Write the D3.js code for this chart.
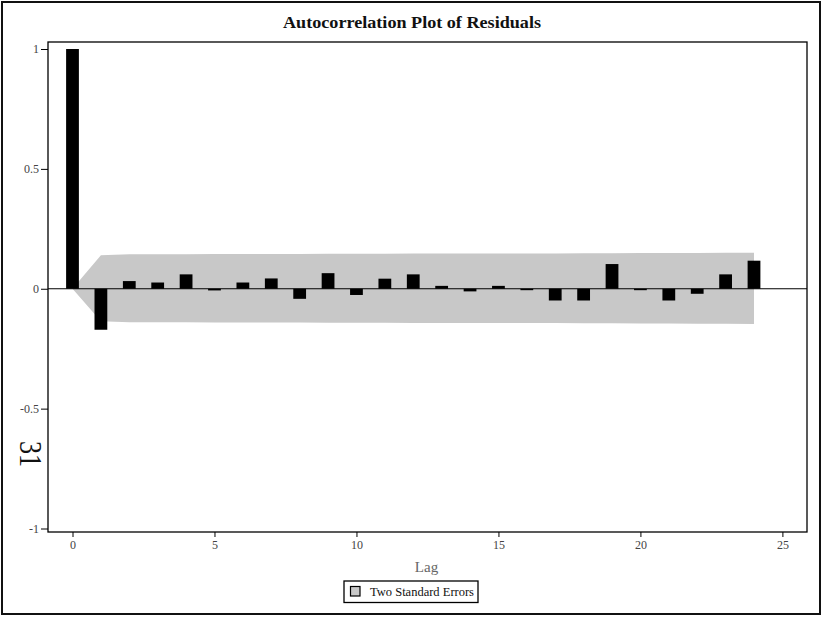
<!DOCTYPE html>
<html>
<head>
<meta charset="utf-8">
<script src="https://cdn.jsdelivr.net/npm/d3@7"></script>
<style>
  html, body { margin: 0; padding: 0; background: #fff; }
  svg { display: block; }
</style>
</head>
<body>
<svg id="chart" width="822" height="617"></svg>
<script>
// ---- data ----
const lags = [0,1,2,3,4,5,6,7,8,9,10,11,12,13,14,15,16,17,18,19,20,21,22,23,24];
const acf = [1.0,-0.171,0.032,0.026,0.060,-0.007,0.026,0.043,-0.042,0.065,-0.026,0.042,0.060,0.012,-0.011,0.012,-0.006,-0.049,-0.049,0.103,-0.006,-0.049,-0.021,0.060,0.117];
const seUpper = [0,0.140,0.144,0.144,0.144,0.145,0.145,0.145,0.145,0.146,0.146,0.146,0.147,0.147,0.147,0.147,0.147,0.147,0.148,0.148,0.149,0.149,0.149,0.150,0.150];
const seLower = [0,-0.136,-0.140,-0.140,-0.140,-0.141,-0.141,-0.141,-0.141,-0.142,-0.142,-0.142,-0.143,-0.143,-0.143,-0.143,-0.143,-0.143,-0.144,-0.144,-0.145,-0.145,-0.146,-0.146,-0.147];
const xTicks = [0,5,10,15,20,25];
const yTicks = [-1,-0.5,0,0.5,1];
const yTickLabels = ["-1","-0.5","0","0.5","1"];
const titleText = "Autocorrelation Plot of Residuals";
const xLabel = "Lag";
const legendLabel = "Two Standard Errors";
const pageMark = "31";

// ---- layout ----
const svg = d3.select("#chart");
const plot = {left: 48, top: 42, right: 807, bottom: 532};
const serif = "'Liberation Serif', 'Times New Roman', serif";

const x = d3.scaleLinear().domain([0, 24]).range([72.5, 754]);
const y = d3.scaleLinear().domain([-1, 1]).range([528.5, 49]);
const barW = (x(1) - x(0)) * 0.45;

// outer frame
svg.append("rect").attr("x", 2).attr("y", 2).attr("width", 818).attr("height", 612)
  .attr("fill", "#fff").attr("stroke", "#111").attr("stroke-width", 2);

// title
svg.append("text").attr("x", 412).attr("y", 28).attr("text-anchor", "middle")
  .attr("font-family", serif).attr("font-weight", "bold").attr("font-size", 17)
  .attr("textLength", 258).attr("lengthAdjust", "spacingAndGlyphs")
  .attr("fill", "#111").text(titleText);

const g = svg.append("g");

// standard-error band
const band = d3.area()
  .x((d, i) => x(lags[i]))
  .y0((d, i) => y(seLower[i]))
  .y1((d, i) => y(seUpper[i]));
g.append("path").datum(lags).attr("d", band).attr("fill", "#c8c8c8");

// zero line
g.append("line").attr("x1", plot.left).attr("x2", plot.right)
  .attr("y1", y(0)).attr("y2", y(0)).attr("stroke", "#000").attr("stroke-width", 1.2);

// bars
g.selectAll("rect.bar").data(lags).enter().append("rect").attr("class", "bar")
  .attr("x", d => x(d) - barW / 2)
  .attr("width", barW)
  .attr("y", (d, i) => Math.min(y(acf[i]), y(0)))
  .attr("height", (d, i) => Math.max(1, Math.abs(y(acf[i]) - y(0))))
  .attr("fill", "#000");

// plot frame
svg.append("rect").attr("x", plot.left).attr("y", plot.top)
  .attr("width", plot.right - plot.left).attr("height", plot.bottom - plot.top)
  .attr("fill", "none").attr("stroke", "#000").attr("stroke-width", 1.3);

// y axis
const yAxis = d3.axisLeft(y).tickValues(yTicks).tickSize(7).tickPadding(2).tickSizeOuter(0)
  .tickFormat((d, i) => yTickLabels[i]);
const ya = svg.append("g").attr("transform", `translate(${plot.left},0)`).call(yAxis);
ya.select(".domain").remove();
ya.selectAll("text").attr("font-family", serif).attr("font-size", 12).attr("fill", "#444");
ya.selectAll("line").attr("stroke", "#000");

// x axis
const xAxis = d3.axisBottom(x).tickValues(xTicks).tickSize(5).tickPadding(3).tickSizeOuter(0)
  .tickFormat(d3.format("d"));
const xa = svg.append("g").attr("transform", `translate(0,${plot.bottom})`).call(xAxis);
xa.select(".domain").remove();
xa.selectAll("text").attr("font-family", serif).attr("font-size", 12).attr("fill", "#444");
xa.selectAll("line").attr("stroke", "#000");

// x label
svg.append("text").attr("x", (plot.left + plot.right) / 2 - 1).attr("y", 572)
  .attr("text-anchor", "middle").attr("font-family", serif).attr("font-size", 15)
  .attr("fill", "#666").text(xLabel);

// legend
const lg = svg.append("g");
lg.append("rect").attr("x", 344).attr("y", 581).attr("width", 134).attr("height", 21.5)
  .attr("fill", "#fff").attr("stroke", "#000").attr("stroke-width", 1.3);
lg.append("rect").attr("x", 350.5).attr("y", 586.5).attr("width", 9.5).attr("height", 9.5)
  .attr("fill", "#c8c8c8").attr("stroke", "#000").attr("stroke-width", 1.2);
lg.append("text").attr("x", 370).attr("y", 595.5).attr("font-family", serif).attr("font-size", 12)
  .attr("textLength", 104).attr("lengthAdjust", "spacingAndGlyphs")
  .attr("fill", "#111").text(legendLabel);

// page mark
svg.append("text").attr("transform", "translate(20,441) rotate(90)")
  .attr("font-family", serif).attr("font-size", 32).attr("fill", "#111")
  .attr("textLength", 26).attr("lengthAdjust", "spacingAndGlyphs")
  .text(pageMark);
</script>
</body>
</html>
